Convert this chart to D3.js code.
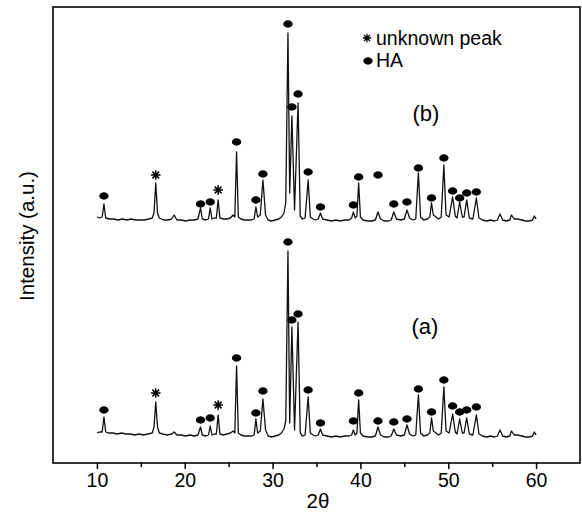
<!DOCTYPE html>
<html>
<head>
<meta charset="utf-8">
<script src="https://cdn.jsdelivr.net/npm/d3@7"></script>
<style>
  html, body { margin: 0; padding: 0; background: #fff; }
  svg { display: block; }
  text { font-family: "Liberation Sans", Arial, sans-serif; fill: #000; }
</style>
</head>
<body>
<div id="chart"></div>
<script>
// ---- Data (2θ in degrees, intensity in arbitrary units; trace (b) plotted with its vertical offset) ----
const traceA = [[10.0,30],[10.3,31],[10.6,31],[10.8,46],[11.0,31],[11.3,30],[11.8,30],[12.3,29],[12.8,30],[13.3,29],[13.8,29],[14.3,28],[14.8,29],[15.3,28],[15.8,29],[16.3,30],[16.5,36],[16.7,61],[16.9,36],[17.1,30],[17.5,29],[18.0,28],[18.5,29],[18.8,31],[19.1,28],[19.6,28],[20.1,27],[20.6,28],[21.1,27],[21.5,28],[21.8,36],[22.0,28],[22.4,27],[22.7,28],[22.9,37],[23.1,28],[23.4,29],[23.6,29],[23.8,48],[24.0,29],[24.4,28],[24.8,29],[25.2,30],[25.5,32],[25.7,30],[25.9,97],[26.1,30],[26.4,28],[26.8,27],[27.2,27],[27.6,27],[27.9,28],[28.1,44],[28.3,30],[28.6,32],[28.9,64],[29.2,33],[29.5,27],[29.9,26],[30.3,27],[30.7,28],[31.0,30],[31.3,34],[31.5,42],[31.75,212],[31.95,40],[32.2,136],[32.5,33],[32.9,141],[33.15,30],[33.4,27],[33.7,28],[34.05,66],[34.3,30],[34.6,28],[34.9,27],[35.2,28],[35.45,34],[35.7,28],[36.2,27],[36.7,26],[37.2,27],[37.7,26],[38.2,27],[38.7,27],[39.0,28],[39.2,33],[39.4,28],[39.6,30],[39.8,63],[40.0,30],[40.3,27],[40.8,26],[41.3,26],[41.7,27],[42.0,36],[42.3,28],[42.7,26],[43.2,26],[43.5,27],[43.8,34],[44.1,28],[44.6,27],[45.0,28],[45.3,38],[45.6,29],[46.0,27],[46.3,28],[46.6,68],[46.85,30],[47.2,27],[47.6,28],[47.9,30],[48.1,45],[48.3,32],[48.6,30],[48.9,28],[49.2,30],[49.5,76],[49.75,32],[50.1,30],[50.5,49],[50.8,31],[51.0,29],[51.3,44],[51.6,30],[51.8,30],[52.1,45],[52.4,29],[52.8,28],[53.2,48],[53.5,29],[53.9,27],[54.4,26],[54.8,27],[55.3,26],[55.6,27],[55.9,33],[56.2,27],[56.6,26],[57.0,27],[57.2,32],[57.5,28],[57.9,28],[58.4,27],[58.8,26],[59.2,26],[59.6,27],[59.8,31],[60.0,28]];

const traceB = [[10.0,246],[10.3,245],[10.6,246],[10.8,259],[11.0,245],[11.4,244],[11.9,244],[12.4,243],[12.9,244],[13.4,243],[13.9,244],[14.4,243],[14.9,243],[15.4,243],[15.9,244],[16.3,245],[16.5,250],[16.7,280],[16.9,250],[17.1,245],[17.6,243],[18.1,243],[18.5,244],[18.8,248],[19.1,243],[19.6,243],[20.1,242],[20.6,243],[21.1,243],[21.5,244],[21.8,255],[22.0,244],[22.4,243],[22.7,244],[22.9,255],[23.1,244],[23.4,245],[23.6,245],[23.8,263],[24.0,245],[24.4,244],[24.8,244],[25.2,245],[25.5,248],[25.7,246],[25.9,311],[26.1,246],[26.4,244],[26.8,243],[27.2,243],[27.6,243],[27.9,244],[28.1,256],[28.3,246],[28.6,248],[28.9,283],[29.2,248],[29.5,243],[29.9,242],[30.3,243],[30.7,244],[31.0,246],[31.3,250],[31.5,260],[31.75,430],[31.95,270],[32.2,347],[32.5,253],[32.9,360],[33.15,247],[33.4,244],[33.7,245],[34.05,283],[34.3,246],[34.6,244],[34.9,243],[35.2,244],[35.45,250],[35.7,244],[36.2,243],[36.7,242],[37.2,243],[37.7,242],[38.2,243],[38.7,243],[39.0,245],[39.2,251],[39.4,245],[39.6,247],[39.8,280],[40.0,246],[40.3,243],[40.8,242],[41.3,242],[41.7,243],[42.0,251],[42.3,244],[42.7,242],[43.2,242],[43.5,243],[43.8,251],[44.1,244],[44.6,243],[45.0,244],[45.3,253],[45.6,245],[46.0,243],[46.3,244],[46.6,290],[46.85,246],[47.2,243],[47.6,244],[47.9,246],[48.1,260],[48.3,248],[48.6,246],[48.9,244],[49.2,246],[49.5,298],[49.75,248],[50.1,246],[50.5,266],[50.8,247],[51.0,245],[51.3,261],[51.6,246],[51.8,246],[52.1,263],[52.4,245],[52.8,244],[53.2,265],[53.5,245],[53.9,243],[54.4,242],[54.8,243],[55.3,242],[55.6,243],[55.9,249],[56.2,243],[56.6,242],[57.0,243],[57.2,248],[57.5,244],[57.9,244],[58.4,243],[58.8,242],[59.2,242],[59.6,243],[59.8,247],[60.0,244]];

// HA reflections (marker positions) and unknown peaks
const haPos   = [10.8, 21.8, 22.9, 25.9, 28.1, 28.9, 31.75, 32.2, 32.9, 34.05, 35.45, 39.2, 39.8, 42.0, 43.8, 45.3, 46.6, 48.1, 49.5, 50.5, 51.3, 52.1, 53.2];
const haMarkA = [53, 43, 45, 105, 50, 72, 221, 143, 149, 73, 40, 42, 70, 42, 41, 44, 74, 51, 83, 57, 51, 53, 56];
const haMarkB = [267, 259, 261, 321, 263, 289, 439, 356, 369, 291, 256, 258, 286, 288, 259, 261, 295, 265, 305, 272, 265, 270, 271];
const unkPos   = [16.7, 23.8];
const unkMarkA = [70, 58];
const unkMarkB = [288, 273];

const xMajorTicks = [10, 20, 30, 40, 50, 60];
const xMinorTicks = [15, 25, 35, 45, 55];
const xDomain = [5, 65];
const yDomain = [0, 456];
const traceLabels = ["(a)", "(b)"];
const legendLabels = ["unknown peak", "HA"];

// ---- Layout ----
const W = 582, H = 521;
const mLeft = 53, mRight = 580, mTop = 7, mBottom = 463;

const svg = d3.select("#chart").append("svg").attr("width", W).attr("height", H);

const x = d3.scaleLinear().domain(xDomain).range([mLeft, mRight]);
const y = d3.scaleLinear().domain(yDomain).range([mBottom, mTop]);

const line = d3.line().x(d => x(d[0])).y(d => y(d[1]));

// traces
[traceA, traceB].forEach(t => {
  svg.append("path").datum(t)
    .attr("d", line)
    .attr("fill", "none")
    .attr("stroke", "#111")
    .attr("stroke-width", 1.3)
    .attr("stroke-linejoin", "round");
});

// HA markers
function haMarks(vals) {
  svg.append("g").selectAll("ellipse").data(haPos.map((p, i) => [p, vals[i]]))
    .join("ellipse")
    .attr("cx", d => x(d[0])).attr("cy", d => y(d[1]))
    .attr("rx", 4.7).attr("ry", 3.7).attr("fill", "#000");
}
haMarks(haMarkA); haMarks(haMarkB);

// asterisk
function asterisk(cx, cy, r) {
  const a = r * Math.SQRT1_2;
  return `M${cx},${cy - r}L${cx},${cy + r}M${cx - r},${cy}L${cx + r},${cy}` +
         `M${cx - a},${cy - a}L${cx + a},${cy + a}M${cx - a},${cy + a}L${cx + a},${cy - a}`;
}
function unkMarks(vals) {
  svg.append("g").selectAll("path").data(unkPos.map((p, i) => [p, vals[i]]))
    .join("path")
    .attr("d", d => asterisk(x(d[0]), y(d[1]), 4.8))
    .attr("stroke", "#000").attr("stroke-width", 1.5).attr("fill", "none");
}
unkMarks(unkMarkA); unkMarks(unkMarkB);

// frame
svg.append("rect")
  .attr("x", mLeft).attr("y", mTop)
  .attr("width", mRight - mLeft).attr("height", mBottom - mTop)
  .attr("fill", "none").attr("stroke", "#000").attr("stroke-width", 1.6);

// x axis
const axMajor = d3.axisBottom(x).tickValues(xMajorTicks).tickSize(6).tickPadding(4).tickSizeOuter(0).tickFormat(d3.format("d"));
const gx = svg.append("g").attr("transform", `translate(0,${mBottom})`).call(axMajor);
gx.select(".domain").remove();
gx.selectAll(".tick line").attr("stroke", "#000").attr("stroke-width", 1.5);
gx.selectAll(".tick text").attr("font-size", 19.5).attr("font-family", "Liberation Sans, Arial, sans-serif").attr("fill", "#000");

const axMinor = d3.axisBottom(x).tickValues(xMinorTicks).tickSize(4).tickFormat("");
const gxm = svg.append("g").attr("transform", `translate(0,${mBottom})`).call(axMinor);
gxm.select(".domain").remove();
gxm.selectAll(".tick line").attr("stroke", "#000").attr("stroke-width", 1.5);

// axis titles
svg.append("text")
  .attr("x", 318).attr("y", 508)
  .attr("text-anchor", "middle").attr("font-size", 20.5)
  .text("2θ");
svg.append("text")
  .attr("transform", `translate(34,236) rotate(-90)`)
  .attr("text-anchor", "middle").attr("font-size", 20.5)
  .text("Intensity (a.u.)");

// trace labels
svg.append("text").attr("x", 425).attr("y", 334).attr("text-anchor", "middle").attr("font-size", 22).text(traceLabels[0]);
svg.append("text").attr("x", 426).attr("y", 121).attr("text-anchor", "middle").attr("font-size", 22).text(traceLabels[1]);

// legend
svg.append("path").attr("d", asterisk(367, 38, 4.2)).attr("stroke", "#000").attr("stroke-width", 1.3).attr("fill", "none");
svg.append("text").attr("x", 376).attr("y", 45).attr("font-size", 19.5).text(legendLabels[0]);
svg.append("ellipse").attr("cx", 368).attr("cy", 61).attr("rx", 4.7).attr("ry", 3.7).attr("fill", "#000");
svg.append("text").attr("x", 376).attr("y", 67).attr("font-size", 19.5).text(legendLabels[1]);
</script>
</body>
</html>
